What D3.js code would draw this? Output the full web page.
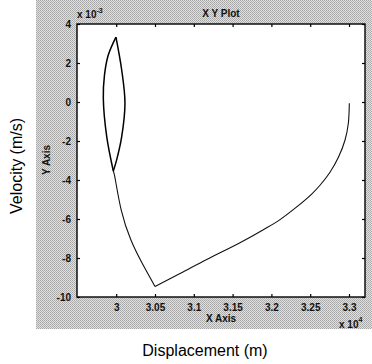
<!DOCTYPE html>
<html>
<head>
<meta charset="utf-8">
<script src="https://cdn.jsdelivr.net/npm/d3@7"></script>
<style>
  html, body { margin: 0; padding: 0; background: #fff; }
  svg { display: block; }
  text { font-family: "Liberation Sans", Arial, sans-serif; }
</style>
</head>
<body>
<svg id="chart" width="372" height="364"></svg>
<script>
// Tick values (x in units of 10^4 m, y in units of 10^-3 m/s)
const xTicks = [3, 3.05, 3.1, 3.15, 3.2, 3.25, 3.3];
const xTickLabels = ["3", "3.05", "3.1", "3.15", "3.2", "3.25", "3.3"];
const yTicks = [4, 2, 0, -2, -4, -6, -8, -10];
const yTickLabels = ["4", "2", "0", "-2", "-4", "-6", "-8", "-10"];

// Phase trajectory, part 1: long sweep from the start point down to the lowest velocity
const sweepX = [3.3004, 3.2991, 3.2949, 3.2862, 3.2755, 3.2626, 3.2519, 3.2326, 3.2111, 3.1896, 3.1595, 3.1166, 3.0822, 3.0500];
const sweepY = [-0.07, -1.10, -1.95, -2.85, -3.60, -4.27, -4.72, -5.38, -6.03, -6.55, -7.22, -8.08, -8.80, -9.46];
// Part 2: climb back towards the loop
const climbX = [3.0500, 3.0335, 3.0190, 3.0065, 2.9990, 2.9963];
const climbY = [-9.46, -8.27, -7.08, -5.54, -4.00, -3.54];
// Part 3: closed loop, right arc (bottom to top) and left arc (top to bottom)
const loopRightX = [2.9963, 3.0006, 3.0071, 3.0113, 3.0071, 2.9997];
const loopRightY = [-3.54, -2.97, -1.78, -0.05, 1.64, 3.33];
const loopLeftX = [2.9997, 2.9898, 2.9849, 2.9834, 2.9878, 2.9963];
const loopLeftY = [3.33, 2.41, 1.38, 0.19, -1.78, -3.54];

const svg = d3.select("#chart");

// Stippled grey figure backdrop
const defs = svg.append("defs");
const pat = defs.append("pattern")
  .attr("id", "stipple").attr("width", 2).attr("height", 2)
  .attr("patternUnits", "userSpaceOnUse");
pat.append("rect").attr("width", 2).attr("height", 2).attr("fill", "#e0e0e0");
pat.append("rect").attr("width", 1).attr("height", 1).attr("fill", "#a6a6a6");
pat.append("rect").attr("x", 1).attr("y", 1).attr("width", 1).attr("height", 1).attr("fill", "#b2b2b2");

svg.append("rect").attr("x", 36).attr("y", 0).attr("width", 336).attr("height", 329)
  .attr("fill", "url(#stipple)");

const plot = { left: 77, top: 24, right: 365, bottom: 297 };

const x = d3.scaleLinear().domain([2.9495, 3.3206]).range([plot.left, plot.right]);
const y = d3.scaleLinear().domain([-10, 4]).range([plot.bottom, plot.top]);

// Axes area
svg.append("rect")
  .attr("x", plot.left).attr("y", plot.top)
  .attr("width", plot.right - plot.left).attr("height", plot.bottom - plot.top)
  .attr("fill", "#fff");

const tickLen = 3;
const axisStyle = g => {
  g.select(".domain").remove();
  g.selectAll(".tick line").attr("stroke", "#000").attr("stroke-width", 1.2);
  g.selectAll(".tick text").attr("fill", "#111").attr("font-size", 10).attr("font-weight", "bold");
};

// Bottom axis (inward ticks, labels below)
svg.append("g").attr("transform", `translate(0,${plot.bottom})`)
  .call(d3.axisBottom(x).tickValues(xTicks).tickSize(-tickLen).tickPadding(7)
    .tickFormat((d, i) => xTickLabels[i]))
  .call(axisStyle);
// Top axis ticks only
svg.append("g").attr("transform", `translate(0,${plot.top})`)
  .call(d3.axisTop(x).tickValues(xTicks).tickSize(-tickLen).tickFormat(""))
  .call(axisStyle);
// Left axis
svg.append("g").attr("transform", `translate(${plot.left},0)`)
  .call(d3.axisLeft(y).tickValues(yTicks).tickSize(-tickLen).tickPadding(6)
    .tickFormat((d, i) => yTickLabels[i]))
  .call(axisStyle);
// Right axis ticks only
svg.append("g").attr("transform", `translate(${plot.right},0)`)
  .call(d3.axisRight(y).tickValues(yTicks).tickSize(-tickLen).tickFormat(""))
  .call(axisStyle);

// Box
svg.append("rect")
  .attr("x", plot.left).attr("y", plot.top)
  .attr("width", plot.right - plot.left).attr("height", plot.bottom - plot.top)
  .attr("fill", "none").attr("stroke", "#000").attr("stroke-width", 1.4);

// Trajectory
const zip = (xs, ys) => xs.map((v, i) => [v, ys[i]]);
const smooth = d3.line().x(d => x(d[0])).y(d => y(d[1])).curve(d3.curveCatmullRom.alpha(0.5));
const natural = d3.line().x(d => x(d[0])).y(d => y(d[1])).curve(d3.curveNatural);

svg.append("path").datum(zip(sweepX, sweepY))
  .attr("d", smooth).attr("fill", "none").attr("stroke", "#111").attr("stroke-width", 1.1);
svg.append("path").datum(zip(climbX, climbY))
  .attr("d", natural).attr("fill", "none").attr("stroke", "#111").attr("stroke-width", 1.1);
svg.append("path").datum(zip(loopRightX, loopRightY))
  .attr("d", smooth).attr("fill", "none").attr("stroke", "#000").attr("stroke-width", 1.5);
svg.append("path").datum(zip(loopLeftX, loopLeftY))
  .attr("d", smooth).attr("fill", "none").attr("stroke", "#000").attr("stroke-width", 1.5);

// Exponent labels
const yExp = svg.append("text").attr("x", 77).attr("y", 18).attr("font-size", 10).attr("font-weight", "bold").attr("fill", "#111");
yExp.append("tspan").text("x 10");
yExp.append("tspan").attr("dy", -5).attr("font-size", 7).text("-3");

const xExp = svg.append("text").attr("x", 339).attr("y", 328).attr("font-size", 10).attr("font-weight", "bold").attr("fill", "#111");
xExp.append("tspan").text("x 10");
xExp.append("tspan").attr("dy", -6).attr("font-size", 7).text("4");

// Inner titles
svg.append("text").attr("x", 221).attr("y", 17).attr("text-anchor", "middle")
  .attr("font-size", 10).attr("font-weight", "bold").attr("fill", "#111").text("X Y Plot");
svg.append("text").attr("x", 221).attr("y", 322).attr("text-anchor", "middle")
  .attr("font-size", 10).attr("font-weight", "bold").attr("fill", "#111").text("X Axis");
svg.append("text").attr("transform", "translate(50,160) rotate(-90)").attr("text-anchor", "middle")
  .attr("font-size", 10).attr("font-weight", "bold").attr("fill", "#111").text("Y Axis");

// Outer labels
svg.append("text").attr("x", 205).attr("y", 356).attr("text-anchor", "middle")
  .attr("font-size", 16).attr("fill", "#000").text("Displacement (m)");
svg.append("text").attr("transform", "translate(22,166) rotate(-90)").attr("text-anchor", "middle")
  .attr("font-size", 16).attr("fill", "#000").text("Velocity (m/s)");
</script>
</body>
</html>
